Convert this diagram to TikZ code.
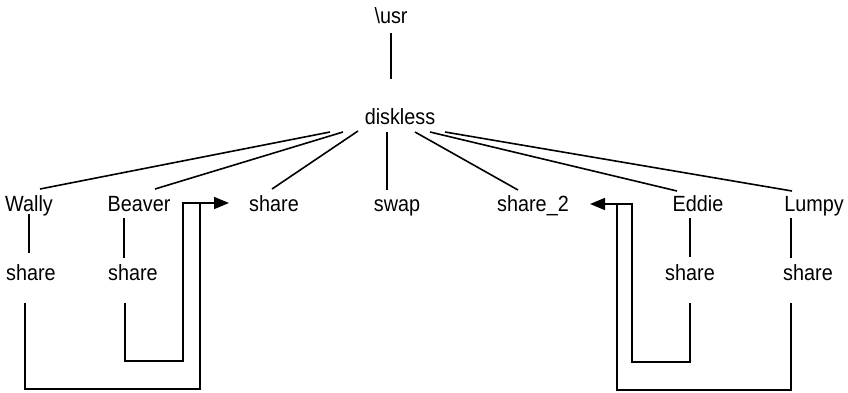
\documentclass[tikz,border=0pt]{standalone}
\usepackage{fontspec}
\setmainfont[FakeStretch=0.9]{Liberation Sans}
\usetikzlibrary{arrows.meta}
\begin{document}
\begin{tikzpicture}[x=1pt,y=1pt,
  lbl/.style={anchor=base,inner sep=0pt,font=\fontsize{22}{26}\selectfont},
  conn/.style={line width=1.6pt,line cap=butt,line join=miter},
  arr/.style={conn,-{Triangle[length=15pt,width=12pt]}}]
\useasboundingbox (0,0) rectangle (848,-392);
% nodes
\node[lbl] (usr) at (391,-23) {\textbackslash usr};
\node[lbl] (dk) at (400,-124) {diskless};
\node[lbl] (wally) at (29,-211) {Wally};
\node[lbl] (beaver) at (139,-211) {Beaver};
\node[lbl] (shareA) at (274,-211) {share};
\node[lbl] (swap) at (397,-211) {swap};
\node[lbl] (share2) at (533,-211) {share\_2};
\node[lbl] (eddie) at (698,-211) {Eddie};
\node[lbl] (lumpy) at (814,-211) {Lumpy};
\node[lbl] (wshare) at (31,-280) {share};
\node[lbl] (bshare) at (133,-280) {share};
\node[lbl] (eshare) at (690,-280) {share};
\node[lbl] (lshare) at (808,-280) {share};
\coordinate (jl) at (200,-203);
\coordinate (jr) at (617,-204);
% tree
\draw[conn] ([shift={(0pt,-10pt)}]usr.base) -- ([shift={(-9pt,45pt)}]dk.base);
\draw[conn] ([shift={(-70pt,-8pt)}]dk.base) -- ([shift={(11pt,22pt)}]wally.base);
\draw[conn] ([shift={(-57pt,-8pt)}]dk.base) -- ([shift={(16pt,22pt)}]beaver.base);
\draw[conn] ([shift={(-42pt,-7pt)}]dk.base) -- ([shift={(-2pt,22pt)}]shareA.base);
\draw[conn] ([shift={(-13pt,-8pt)}]dk.base) -- ([shift={(-10pt,21pt)}]swap.base);
\draw[conn] ([shift={(15pt,-8pt)}]dk.base) -- ([shift={(-15pt,21pt)}]share2.base);
\draw[conn] ([shift={(30pt,-8pt)}]dk.base) -- ([shift={(-21pt,20pt)}]eddie.base);
\draw[conn] ([shift={(45pt,-8pt)}]dk.base) -- ([shift={(-22pt,20pt)}]lumpy.base);
% verticals
\draw[conn] ([shift={(0pt,-3pt)}]wally.base) -- ([shift={(-2pt,27pt)}]wshare.base);
\draw[conn] ([shift={(-15pt,-7pt)}]beaver.base) -- ([shift={(-9pt,22pt)}]bshare.base);
\draw[conn] ([shift={(-8pt,-7pt)}]eddie.base) -- ([shift={(0pt,23pt)}]eshare.base);
\draw[conn] ([shift={(-23pt,-7pt)}]lumpy.base) -- ([shift={(-17pt,22pt)}]lshare.base);
% left brackets
\draw[conn] ([shift={(-8pt,-23pt)}]bshare.base) |- (183,-361) |- (jl);
\draw[conn] ([shift={(-6pt,-23pt)}]wshare.base) |- (200,-389) -- (jl);
\draw[arr] (jl) -- ([shift={(-45pt,8pt)}]shareA.base);
% right brackets
\draw[conn] ([shift={(0pt,-23pt)}]eshare.base) |- (632,-362) |- (jr);
\draw[conn] ([shift={(-17pt,-23pt)}]lshare.base) |- (617,-390) -- (jr);
\draw[arr] (jr) -- ([shift={(57pt,7pt)}]share2.base);
\end{tikzpicture}
\end{document}
